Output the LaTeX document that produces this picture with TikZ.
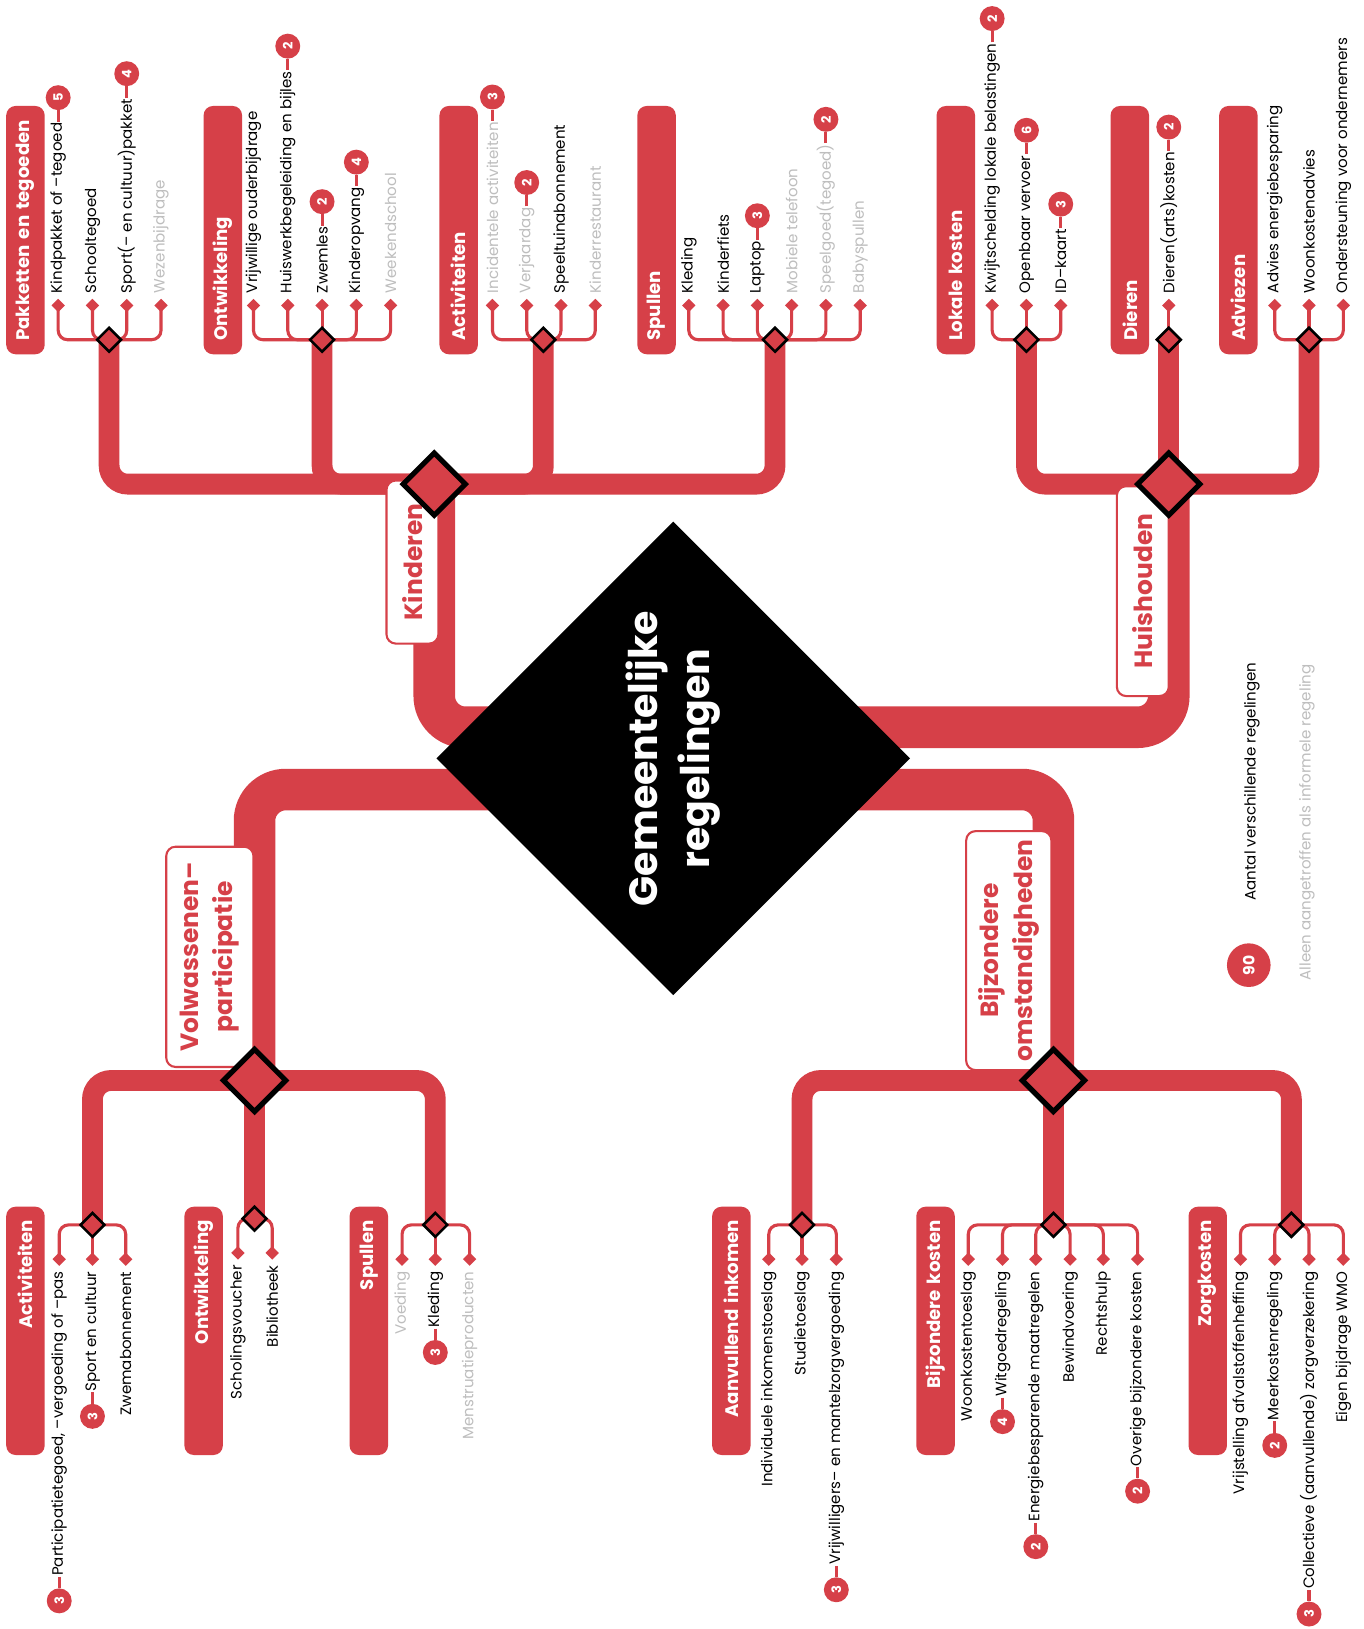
\documentclass[tikz,border=0pt]{standalone}
\usepackage{fontspec}
\setmainfont{Poppins}
\usetikzlibrary{positioning,shapes.geometric,backgrounds}

\definecolor{rood}{RGB}{214,64,72}
\definecolor{grijs}{RGB}{190,190,190}

\tikzset{
  stam/.style={draw=rood,line width=40pt,rounded corners=30pt},
  tak/.style={draw=rood,line width=20pt,rounded corners=18pt},
  lijn/.style={draw=rood,line width=3pt,rounded corners=9pt},
  kern/.style={diamond,aspect=1,fill=black,minimum size=456pt,inner sep=0pt,
    rotate=90,align=center,text=white,font=\bfseries\fontsize{38}{50}\selectfont},
  hoofdruit/.style={diamond,aspect=1,fill=rood,draw=black,line width=5pt,
    minimum size=62pt,inner sep=0pt},
  groepruit/.style={diamond,aspect=1,fill=rood,draw=black,line width=2.5pt,
    minimum size=24pt,inner sep=0pt},
  punt/.style={diamond,aspect=1,fill=rood,minimum size=13pt,inner sep=0pt},
  thema/.style={rectangle,rounded corners=9pt,fill=white,draw=rood,line width=2pt,
    rotate=90,align=center,text=rood,font=\bfseries\fontsize{24}{33}\selectfont},
  groep/.style={rectangle,rounded corners=9pt,fill=rood,text=white,rotate=90,
    minimum width=239pt,minimum height=37pt,inner sep=0pt,text width=213pt,
    font=\bfseries\fontsize{17.5}{20}\selectfont},
  item/.style={rotate=90,inner sep=1pt,font=\fontsize{14.5}{16}\selectfont},
  los/.style={item,text=grijs},
  telling/.style={circle,fill=rood,text=white,rotate=90,minimum size=24pt,
    inner sep=0pt,font=\bfseries\fontsize{12.5}{13}\selectfont}
}

\begin{document}
\begin{tikzpicture}[x=1pt,y=-1pt]
\useasboundingbox (0,0) rectangle (1312,1568);

\node[kern] (kern) at (648,730) {Gemeentelijke\\regelingen};

% hoofdtakken
\node[thema,minimum width=157pt,minimum height=50pt] (kindlabel) at (397,541) {Kinderen};
\node[thema,minimum width=202pt,minimum height=50pt] (huislabel) at (1100,569) {Huishouden};
\node[thema,minimum width=212pt,minimum height=84pt] (volwlabel) at (202,921) {Volwassenen–\\participatie};
\node[thema,minimum width=230pt,minimum height=82pt] (bijzlabel) at (971,915) {Bijzondere\\omstandigheden};

\node[hoofdruit] (kind) at (418,466) {};
\node[hoofdruit] (huis) at (1125,466) {};
\node[hoofdruit] (volw) at (245,1040) {};
\node[hoofdruit] (bijz) at (1014,1040) {};

% groepen boven
\node[groep,align=left] (pklabel) at (24.5,221.5) {\mbox{Pakketten en tegoeden}};
\node[groep,align=left] (oklabel) at (214.5,221.5) {Ontwikkeling};
\node[groep,align=left] (aklabel) at (441.5,221.5) {Activiteiten};
\node[groep,align=left] (sklabel) at (632,221.5) {Spullen};
\node[groep,align=left] (lklabel) at (920,221.5) {Lokale kosten};
\node[groep,align=left] (dklabel) at (1087.5,221.5) {Dieren};
\node[groep,align=left] (avlabel) at (1192,221.5) {Adviezen};

% groepen onder
\node[groep,align=right] (valabel) at (24.5,1281) {Activiteiten};
\node[groep,align=right] (volabel) at (196,1281) {Ontwikkeling};
\node[groep,align=right] (vslabel) at (355,1281) {Spullen};
\node[groep,align=right] (ailabel) at (704,1281) {\mbox{Aanvullend inkomen}};
\node[groep,align=right] (bklabel) at (900.5,1281) {\mbox{Bijzondere kosten}};
\node[groep,align=right] (zklabel) at (1162.5,1281) {Zorgkosten};

\node[groepruit] (pk) at (105,327) {};
\node[groepruit] (ok) at (310,327) {};
\node[groepruit] (ak) at (523,327) {};
\node[groepruit] (sk) at (746,327) {};
\node[groepruit] (lk) at (988,327) {};
\node[groepruit] (dk) at (1125,327) {};
\node[groepruit] (av) at (1260,327) {};
\node[groepruit] (va) at (89,1179) {};
\node[groepruit] (vo) at (245,1173) {};
\node[groepruit] (vs) at (419,1179) {};
\node[groepruit] (ai) at (772,1179) {};
\node[groepruit] (bk) at (1014,1179) {};
\node[groepruit] (zk) at (1243,1179) {};

% Pakketten en tegoeden
\node[punt] (pk1) at (56,294) {};
\node[punt] (pk2) at (89,294) {};
\node[punt] (pk3) at (122,294) {};
\node[punt] (pk4) at (155,294) {};
\node[item,anchor=west] (pk1t) at ([yshift=4pt]pk1.north) {Kindpakket of –tegoed};
\node[item,anchor=west] (pk2t) at ([yshift=4pt]pk2.north) {Schooltegoed};
\node[item,anchor=west] (pk3t) at ([yshift=4pt]pk3.north) {Sport(– en cultuur)pakket};
\node[los,anchor=west] (pk4t) at ([yshift=4pt]pk4.north) {Wezenbijdrage};
\node[telling] (pk1n) at ([yshift=23pt]pk1t.east) {5};
\node[telling] (pk3n) at ([yshift=23pt]pk3t.east) {4};

% Ontwikkeling
\node[punt] (ok1) at (244,294) {};
\node[punt] (ok2) at (277,294) {};
\node[punt] (ok3) at (310,294) {};
\node[punt] (ok4) at (343,294) {};
\node[punt] (ok5) at (376,294) {};
\node[item,anchor=west] (ok1t) at ([yshift=4pt]ok1.north) {Vrijwillige ouderbijdrage};
\node[item,anchor=west] (ok2t) at ([yshift=4pt]ok2.north) {Huiswerkbegeleiding en bijles};
\node[item,anchor=west] (ok3t) at ([yshift=4pt]ok3.north) {Zwemles};
\node[item,anchor=west] (ok4t) at ([yshift=4pt]ok4.north) {Kinderopvang};
\node[los,anchor=west] (ok5t) at ([yshift=4pt]ok5.north) {Weekendschool};
\node[telling] (ok2n) at ([yshift=23pt]ok2t.east) {2};
\node[telling] (ok3n) at ([yshift=23pt]ok3t.east) {2};
\node[telling] (ok4n) at ([yshift=23pt]ok4t.east) {4};

% Activiteiten
\node[punt] (ak1) at (474,294) {};
\node[punt] (ak2) at (507,294) {};
\node[punt] (ak3) at (540,294) {};
\node[punt] (ak4) at (573,294) {};
\node[los,anchor=west] (ak1t) at ([yshift=4pt]ak1.north) {Incidentele activiteiten};
\node[los,anchor=west] (ak2t) at ([yshift=4pt]ak2.north) {Verjaardag};
\node[item,anchor=west] (ak3t) at ([yshift=4pt]ak3.north) {Speeltuinabonnement};
\node[los,anchor=west] (ak4t) at ([yshift=4pt]ak4.north) {Kinderrestaurant};
\node[telling] (ak1n) at ([yshift=23pt]ak1t.east) {3};
\node[telling] (ak2n) at ([yshift=23pt]ak2t.east) {2};

% Spullen
\node[punt] (sk1) at (663,294) {};
\node[punt] (sk2) at (696,294) {};
\node[punt] (sk3) at (729,294) {};
\node[punt] (sk4) at (762,294) {};
\node[punt] (sk5) at (795,294) {};
\node[punt] (sk6) at (828,294) {};
\node[item,anchor=west] (sk1t) at ([yshift=4pt]sk1.north) {Kleding};
\node[item,anchor=west] (sk2t) at ([yshift=4pt]sk2.north) {Kinderfiets};
\node[item,anchor=west] (sk3t) at ([yshift=4pt]sk3.north) {Laptop};
\node[los,anchor=west] (sk4t) at ([yshift=4pt]sk4.north) {Mobiele telefoon};
\node[los,anchor=west] (sk5t) at ([yshift=4pt]sk5.north) {Speelgoed(tegoed)};
\node[los,anchor=west] (sk6t) at ([yshift=4pt]sk6.north) {Babyspullen};
\node[telling] (sk3n) at ([yshift=23pt]sk3t.east) {3};
\node[telling] (sk5n) at ([yshift=23pt]sk5t.east) {2};

% Lokale kosten
\node[punt] (lk1) at (955,294) {};
\node[punt] (lk2) at (988,294) {};
\node[punt] (lk3) at (1021,294) {};
\node[item,anchor=west] (lk1t) at ([yshift=4pt]lk1.north) {Kwijtschelding lokale belastingen};
\node[item,anchor=west] (lk2t) at ([yshift=4pt]lk2.north) {Openbaar vervoer};
\node[item,anchor=west] (lk3t) at ([yshift=4pt]lk3.north) {ID–kaart};
\node[telling] (lk1n) at ([yshift=23pt]lk1t.east) {2};
\node[telling] (lk2n) at ([yshift=23pt]lk2t.east) {6};
\node[telling] (lk3n) at ([yshift=23pt]lk3t.east) {3};

% Dieren
\node[punt] (dk1) at (1125,294) {};
\node[item,anchor=west] (dk1t) at ([yshift=4pt]dk1.north) {Dieren(arts)kosten};
\node[telling] (dk1n) at ([yshift=23pt]dk1t.east) {2};

% Adviezen
\node[punt] (av1) at (1227,294) {};
\node[punt] (av2) at (1260,294) {};
\node[punt] (av3) at (1293,294) {};
\node[item,anchor=west] (av1t) at ([yshift=4pt]av1.north) {Advies energiebesparing};
\node[item,anchor=west] (av2t) at ([yshift=4pt]av2.north) {Woonkostenadvies};
\node[item,anchor=west] (av3t) at ([yshift=4pt]av3.north) {Ondersteuning voor ondernemers};

% Activiteiten (volwassenen)
\node[punt] (va1) at (57,1212) {};
\node[punt] (va2) at (89,1212) {};
\node[punt] (va3) at (121,1212) {};
\node[item,anchor=east] (va1t) at ([yshift=-4pt]va1.south) {Participatietegoed, –vergoeding of –pas};
\node[item,anchor=east] (va2t) at ([yshift=-4pt]va2.south) {Sport en cultuur};
\node[item,anchor=east] (va3t) at ([yshift=-4pt]va3.south) {Zwemabonnement};
\node[telling] (va1n) at ([yshift=-23pt]va1t.west) {3};
\node[telling] (va2n) at ([yshift=-23pt]va2t.west) {3};

% Ontwikkeling (volwassenen)
\node[punt] (vo1) at (229,1206) {};
\node[punt] (vo2) at (262,1206) {};
\node[item,anchor=east] (vo1t) at ([yshift=-4pt]vo1.south) {Scholingsvoucher};
\node[item,anchor=east] (vo2t) at ([yshift=-4pt]vo2.south) {Bibliotheek};

% Spullen (volwassenen)
\node[punt] (vs1) at (387,1212) {};
\node[punt] (vs2) at (419,1212) {};
\node[punt] (vs3) at (452,1212) {};
\node[los,anchor=east] (vs1t) at ([yshift=-4pt]vs1.south) {Voeding};
\node[item,anchor=east] (vs2t) at ([yshift=-4pt]vs2.south) {Kleding};
\node[los,anchor=east] (vs3t) at ([yshift=-4pt]vs3.south) {Menstruatieproducten};
\node[telling] (vs2n) at ([yshift=-23pt]vs2t.west) {3};

% Aanvullend inkomen
\node[punt] (ai1) at (740,1212) {};
\node[punt] (ai2) at (772,1212) {};
\node[punt] (ai3) at (805,1212) {};
\node[item,anchor=east] (ai1t) at ([yshift=-4pt]ai1.south) {Individuele inkomenstoeslag};
\node[item,anchor=east] (ai2t) at ([yshift=-4pt]ai2.south) {Studietoeslag};
\node[item,anchor=east] (ai3t) at ([yshift=-4pt]ai3.south) {Vrijwilligers– en mantelzorgvergoeding};
\node[telling] (ai3n) at ([yshift=-23pt]ai3t.west) {3};

% Bijzondere kosten
\node[punt] (bk1) at (932,1212) {};
\node[punt] (bk2) at (965,1212) {};
\node[punt] (bk3) at (997,1212) {};
\node[punt] (bk4) at (1030,1212) {};
\node[punt] (bk5) at (1062,1212) {};
\node[punt] (bk6) at (1095,1212) {};
\node[item,anchor=east] (bk1t) at ([yshift=-4pt]bk1.south) {Woonkostentoeslag};
\node[item,anchor=east] (bk2t) at ([yshift=-4pt]bk2.south) {Witgoedregeling};
\node[item,anchor=east] (bk3t) at ([yshift=-4pt]bk3.south) {Energiebesparende maatregelen};
\node[item,anchor=east] (bk4t) at ([yshift=-4pt]bk4.south) {Bewindvoering};
\node[item,anchor=east] (bk5t) at ([yshift=-4pt]bk5.south) {Rechtshulp};
\node[item,anchor=east] (bk6t) at ([yshift=-4pt]bk6.south) {Overige bijzondere kosten};
\node[telling] (bk2n) at ([yshift=-23pt]bk2t.west) {4};
\node[telling] (bk3n) at ([yshift=-23pt]bk3t.west) {2};
\node[telling] (bk6n) at ([yshift=-23pt]bk6t.west) {2};

% Zorgkosten
\node[punt] (zk1) at (1194,1212) {};
\node[punt] (zk2) at (1227,1212) {};
\node[punt] (zk3) at (1260,1212) {};
\node[punt] (zk4) at (1293,1212) {};
\node[item,anchor=east] (zk1t) at ([yshift=-4pt]zk1.south) {Vrijstelling afvalstoffenheffing};
\node[item,anchor=east] (zk2t) at ([yshift=-4pt]zk2.south) {Meerkostenregeling};
\node[item,anchor=east] (zk3t) at ([yshift=-4pt]zk3.south) {Collectieve (aanvullende) zorgverzekering};
\node[item,anchor=east] (zk4t) at ([yshift=-4pt]zk4.south) {Eigen bijdrage WMO};
\node[telling] (zk2n) at ([yshift=-23pt]zk2t.west) {2};
\node[telling] (zk3n) at ([yshift=-23pt]zk3t.west) {3};

% legenda
\node[telling,minimum size=42pt,font=\bfseries\fontsize{15}{16}\selectfont] (totaal) at (1202,929) {90};
\node[item,anchor=west] (totaaltekst) at (1205,868) {Aantal verschillende regelingen};
\node[los,anchor=west] (lostekst) at (1258,945) {Alleen aangetroffen als informele regeling};

\begin{scope}[on background layer]
  \fill[white] (0,0) rectangle (1312,1568);
  \draw[stam] (kind.center) |- ([yshift=30pt]kern.center) -| (huis.center);
  \draw[stam] (volw.center) |- ([yshift=-30pt]kern.center) -| (bijz.center);

  \draw[tak] (kind.center) -| (pk.center);
  \draw[tak] (kind.center) -| (ok.center);
  \draw[tak] (kind.center) -| (ak.center);
  \draw[tak] (kind.center) -| (sk.center);
  \draw[tak] (huis.center) -| (lk.center);
  \draw[tak] (huis.center) -- (dk.center);
  \draw[tak] (huis.center) -| (av.center);
  \draw[tak] (volw.center) -| (va.center);
  \draw[tak] (volw.center) -- (vo.center);
  \draw[tak] (volw.center) -| (vs.center);
  \draw[tak] (bijz.center) -| (ai.center);
  \draw[tak] (bijz.center) -- (bk.center);
  \draw[tak] (bijz.center) -| (zk.center);

  \draw[lijn] (pk.center) -| (pk1.center);
  \draw[lijn] (pk.center) -| (pk2.center);
  \draw[lijn] (pk.center) -| (pk3.center);
  \draw[lijn] (pk.center) -| (pk4.center);
  \draw[lijn] (ok.center) -| (ok1.center);
  \draw[lijn] (ok.center) -| (ok2.center);
  \draw[lijn] (ok.center) -- (ok3.center);
  \draw[lijn] (ok.center) -| (ok4.center);
  \draw[lijn] (ok.center) -| (ok5.center);
  \draw[lijn] (ak.center) -| (ak1.center);
  \draw[lijn] (ak.center) -| (ak2.center);
  \draw[lijn] (ak.center) -| (ak3.center);
  \draw[lijn] (ak.center) -| (ak4.center);
  \draw[lijn] (sk.center) -| (sk1.center);
  \draw[lijn] (sk.center) -| (sk2.center);
  \draw[lijn] (sk.center) -| (sk3.center);
  \draw[lijn] (sk.center) -| (sk4.center);
  \draw[lijn] (sk.center) -| (sk5.center);
  \draw[lijn] (sk.center) -| (sk6.center);
  \draw[lijn] (lk.center) -| (lk1.center);
  \draw[lijn] (lk.center) -- (lk2.center);
  \draw[lijn] (lk.center) -| (lk3.center);
  \draw[lijn] (dk.center) -- (dk1.center);
  \draw[lijn] (av.center) -| (av1.center);
  \draw[lijn] (av.center) -- (av2.center);
  \draw[lijn] (av.center) -| (av3.center);
  \draw[lijn] (va.center) -| (va1.center);
  \draw[lijn] (va.center) -- (va2.center);
  \draw[lijn] (va.center) -| (va3.center);
  \draw[lijn] (vo.center) -| (vo1.center);
  \draw[lijn] (vo.center) -| (vo2.center);
  \draw[lijn] (vs.center) -| (vs1.center);
  \draw[lijn] (vs.center) -- (vs2.center);
  \draw[lijn] (vs.center) -| (vs3.center);
  \draw[lijn] (ai.center) -| (ai1.center);
  \draw[lijn] (ai.center) -- (ai2.center);
  \draw[lijn] (ai.center) -| (ai3.center);
  \draw[lijn] (bk.center) -| (bk1.center);
  \draw[lijn] (bk.center) -| (bk2.center);
  \draw[lijn] (bk.center) -| (bk3.center);
  \draw[lijn] (bk.center) -| (bk4.center);
  \draw[lijn] (bk.center) -| (bk5.center);
  \draw[lijn] (bk.center) -| (bk6.center);
  \draw[lijn] (zk.center) -| (zk1.center);
  \draw[lijn] (zk.center) -| (zk2.center);
  \draw[lijn] (zk.center) -| (zk3.center);
  \draw[lijn] (zk.center) -| (zk4.center);

  \draw[lijn] (pk1t.east) -- (pk1n);
  \draw[lijn] (pk3t.east) -- (pk3n);
  \draw[lijn] (ok2t.east) -- (ok2n);
  \draw[lijn] (ok3t.east) -- (ok3n);
  \draw[lijn] (ok4t.east) -- (ok4n);
  \draw[lijn] (ak1t.east) -- (ak1n);
  \draw[lijn] (ak2t.east) -- (ak2n);
  \draw[lijn] (sk3t.east) -- (sk3n);
  \draw[lijn] (sk5t.east) -- (sk5n);
  \draw[lijn] (lk1t.east) -- (lk1n);
  \draw[lijn] (lk2t.east) -- (lk2n);
  \draw[lijn] (lk3t.east) -- (lk3n);
  \draw[lijn] (dk1t.east) -- (dk1n);
  \draw[lijn] (va1t.west) -- (va1n);
  \draw[lijn] (va2t.west) -- (va2n);
  \draw[lijn] (vs2t.west) -- (vs2n);
  \draw[lijn] (ai3t.west) -- (ai3n);
  \draw[lijn] (bk2t.west) -- (bk2n);
  \draw[lijn] (bk3t.west) -- (bk3n);
  \draw[lijn] (bk6t.west) -- (bk6n);
  \draw[lijn] (zk2t.west) -- (zk2n);
  \draw[lijn] (zk3t.west) -- (zk3n);
\end{scope}

\end{tikzpicture}
\end{document}
